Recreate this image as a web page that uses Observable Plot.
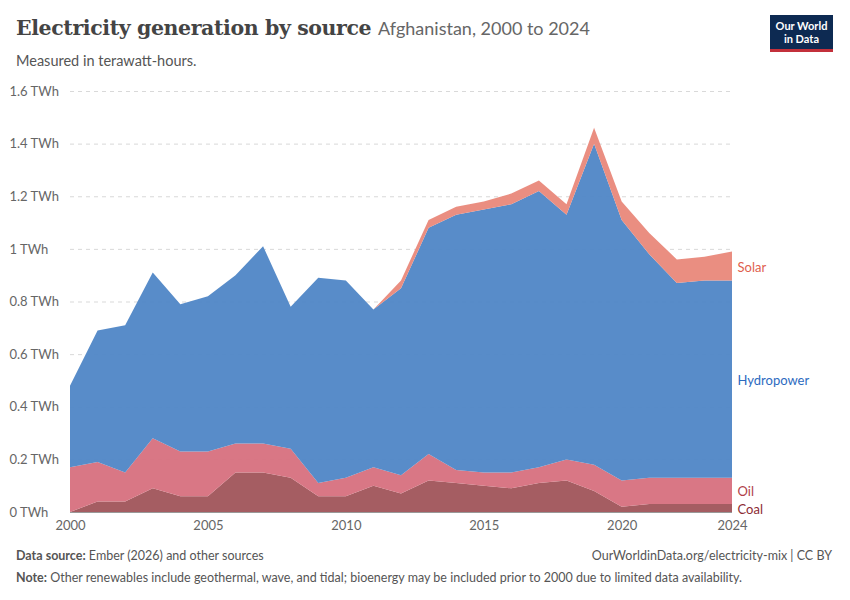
<!DOCTYPE html>
<html><head><meta charset="utf-8">
<script src="https://cdn.jsdelivr.net/npm/d3@7"></script>
<script src="https://cdn.jsdelivr.net/npm/@observablehq/plot@0.6"></script>
<style>
body{margin:0;background:#fff;font-family:Lato,sans-serif;}
#wrap{position:relative;width:850px;height:600px;}
h1{position:absolute;left:16px;top:16px;margin:0;font-family:"DejaVu Serif",serif;font-size:20.5px;font-weight:bold;color:#444;letter-spacing:-0.4px}
h1 span{font-family:Lato,sans-serif;font-weight:normal;font-size:18px;color:#666;letter-spacing:0}
.sub{position:absolute;left:16px;top:52px;font-size:14.5px;color:#555}
.logo{position:absolute;left:770px;top:15px;width:63px;height:37px;background:#0d2a52;color:#fff;font-size:11px;font-weight:bold;text-align:center;line-height:13px;padding-top:4px;box-sizing:border-box;border-bottom:3px solid #c3303b}
#chart{position:absolute;left:0;top:78px}
.foot{position:absolute;left:16px;font-size:12.5px;color:#555;}
</style></head><body><div id="wrap">
<h1>Electricity generation by source <span>Afghanistan, 2000 to 2024</span></h1>
<div class="sub">Measured in terawatt-hours.</div>
<div class="logo">Our World<br>in Data</div>
<div id="chart"></div>
<div class="foot" style="top:548px"><b>Data source:</b> Ember (2026) and other sources</div>
<div class="foot" style="top:548px;left:auto;right:18px">OurWorldinData.org/electricity-mix | CC BY</div>
<div class="foot" style="top:570px"><b>Note:</b> Other renewables include geothermal, wave, and tidal; bioenergy may be included prior to 2000 due to limited data availability.</div>
</div>
<script>
const years = d3.range(2000, 2025);
const total  = [0.48,0.69,0.71,0.91,0.79,0.82,0.90,1.01,0.78,0.89,0.88,0.77,0.88,1.11,1.16,1.18,1.21,1.26,1.17,1.46,1.18,1.06,0.96,0.97,0.99];
const hydroTop=[0.48,0.69,0.71,0.91,0.79,0.82,0.90,1.01,0.78,0.89,0.88,0.77,0.85,1.08,1.13,1.15,1.17,1.22,1.13,1.40,1.11,0.98,0.87,0.88,0.88];
const oilTop = [0.17,0.19,0.15,0.28,0.23,0.23,0.26,0.26,0.24,0.11,0.13,0.17,0.14,0.22,0.16,0.15,0.15,0.17,0.20,0.18,0.12,0.13,0.13,0.13,0.13];
const coal   = [0.00,0.04,0.04,0.09,0.06,0.06,0.15,0.15,0.13,0.06,0.06,0.10,0.07,0.12,0.11,0.10,0.09,0.11,0.12,0.08,0.02,0.03,0.03,0.03,0.03];
const xTicks = [2000,2005,2010,2015,2020,2024];
const yTicks = [0,0.2,0.4,0.6,0.8,1,1.2,1.4,1.6];
const sources = ["Coal","Oil","Hydropower","Solar"];
const colors = ["#a0545a","#d7707e","#4f86c6","#e9887a"];
const labelColors = ["#8c2c33","#b13f4a","#2d6bbf","#e0604e"];
const labelY = [0.01,0.078,0.5,0.93];
const data = [];
years.forEach((y,i)=>{
  data.push({year:y,source:"Coal",value:coal[i]});
  data.push({year:y,source:"Oil",value:+(oilTop[i]-coal[i]).toFixed(3)});
  data.push({year:y,source:"Hydropower",value:+(hydroTop[i]-oilTop[i]).toFixed(3)});
  data.push({year:y,source:"Solar",value:+(total[i]-hydroTop[i]).toFixed(3)});
});
const labels = sources.map((s,i)=>({source:s,y:labelY[i],c:labelColors[i]}));
const chart = Plot.plot({
  width:850,height:460,marginLeft:70,marginRight:118,marginTop:13,marginBottom:26,
  style:{fontFamily:"Lato,sans-serif",fontSize:"13px",color:"#666"},
  x:{domain:[2000,2024],label:null},
  y:{domain:[0,1.6],label:null},
  color:{domain:sources,range:colors},
  marks:[
    Plot.gridY(yTicks,{strokeDasharray:"4,4",strokeOpacity:0.25}),
    Plot.areaY(data,{x:"year",y:"value",fill:"source",order:sources,fillOpacity:0.95}),
    Plot.axisY(yTicks,{tickSize:0,textAnchor:"start",dx:-52,tickFormat:d=>(d===0?"0":String(+d.toFixed(1)))+" TWh",fill:"#666"}),
    Plot.axisX(xTicks,{tickSize:0,fill:"#666",tickPadding:8,tickFormat:d=>String(d)}),
    Plot.ruleY([0],{stroke:"#999"}),
    Plot.text(labels,{x:()=>2024,y:"y",text:"source",fill:"c",dx:5,textAnchor:"start",fontSize:13})
  ]
});
document.getElementById("chart").append(chart);
</script></body></html>
